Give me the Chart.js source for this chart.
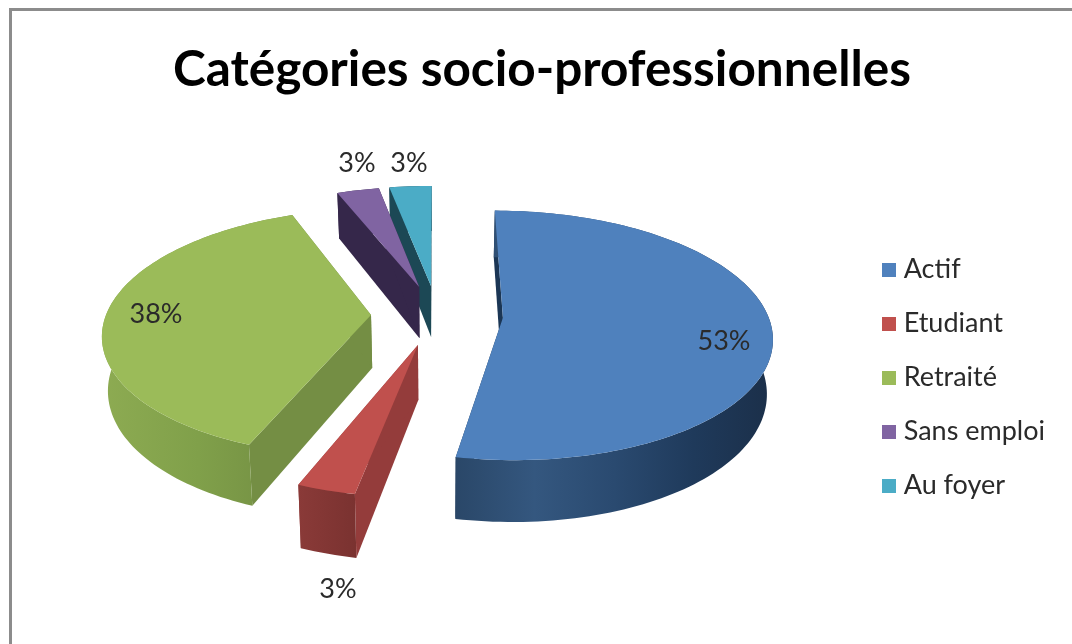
<!DOCTYPE html>
<html lang="fr">
<head>
<meta charset="utf-8">
<title>Catégories socio-professionnelles</title>
<script src="https://cdn.jsdelivr.net/npm/chart.js@4/dist/chart.umd.js"></script>
<style>
  html, body { margin: 0; padding: 0; background: #fff; }
  canvas { display: block; }
</style>
</head>
<body>
<canvas id="pie" width="1072" height="644"></canvas>
<script>
const categories = ['Actif', 'Etudiant', 'Retraité', 'Sans emploi', 'Au foyer'];
const shares = [53, 3, 38, 3, 3];

const topColors = ['#4f81bd', '#c0504d', '#9bbb59', '#8064a2', '#4bacc6'];
const cutColors = ['#1b3655', '#943c3b', '#748e44', '#35274a', '#1c4855'];
const wallStops = [
  ['#2a4768', '#34577f', '#2a4a70', '#1f3a5b', '#1b2f49'],
  ['#8a3a38', '#7a3230'],
  ['#8dab52', '#80a04a', '#728d42'],
  ['#35274a', '#35274a'],
  ['#1c4855', '#1c4855']
];
// where the percentage labels sit, same order as categories
const labelX = [724, 338, 156, 357, 409];
const labelY = [341, 589, 314, 163, 163];

// fake 3d: the flat pie is tilted with a small perspective
const view = { cx: 437, cy: 315, tilt: 121.5, persp: 0.14, depth: 53, shrink: 0.982 };

function project(wx, wy, radius, low) {
  const v = wy / radius;
  const w = 1 - view.persp * v;
  const kx = low ? view.shrink : 1;
  return {
    x: view.cx + wx * kx / w,
    y: view.cy + (view.tilt * v + (low ? view.depth : 0)) / w
  };
}

function tracePts(ctx, pts) {
  ctx.beginPath();
  pts.forEach((p, i) => i ? ctx.lineTo(p.x, p.y) : ctx.moveTo(p.x, p.y));
  ctx.closePath();
}

function drawSlice(ctx, arc, i) {
  const R = arc.outerRadius;
  const mid = (arc.startAngle + arc.endAngle) / 2;
  const ox = Math.cos(mid) * arc.options.offset;
  const oy = Math.sin(mid) * arc.options.offset;
  const rimTop = [], rimLow = [];
  const steps = Math.ceil((arc.endAngle - arc.startAngle) * 40);
  for (let s = 0; s <= steps; s++) {
    const a = arc.startAngle + (arc.endAngle - arc.startAngle) * s / steps;
    const wx = ox + R * Math.cos(a), wy = oy + R * Math.sin(a);
    rimTop.push(project(wx, wy, R, false));
    rimLow.push(project(wx, wy, R, true));
  }
  const tipTop = project(ox, oy, R, false);
  const tipLow = project(ox, oy, R, true);

  // the two cut faces
  ctx.fillStyle = cutColors[i];
  tracePts(ctx, [tipTop, rimTop[0], rimLow[0], tipLow]);
  ctx.fill();
  tracePts(ctx, [tipTop, rimTop[steps], rimLow[steps], tipLow]);
  ctx.fill();

  // outer wall
  const xs = rimTop.concat(rimLow).map(p => p.x);
  const grad = ctx.createLinearGradient(Math.min(...xs), 0, Math.max(...xs), 0);
  wallStops[i].forEach((c, k) => grad.addColorStop(k / (wallStops[i].length - 1), c));
  tracePts(ctx, rimTop.concat(rimLow.slice().reverse()));
  ctx.fillStyle = grad;
  ctx.fill();

  // top
  tracePts(ctx, [tipTop].concat(rimTop));
  ctx.fillStyle = arc.options.backgroundColor;
  ctx.fill();
}

// legend square, wider than the box chart.js reserves so the text sits close to it
function swatch(color) {
  const c = document.createElement('canvas');
  c.width = 14;
  c.height = 14;
  const g = c.getContext('2d');
  g.fillStyle = color;
  g.fillRect(0, 0, 14, 14);
  return c;
}

const tiltedPie = {
  id: 'tiltedPie',
  beforeDraw(chart) {
    const ctx = chart.ctx;
    ctx.save();
    ctx.fillStyle = '#fff';
    ctx.fillRect(0, 0, chart.width, chart.height);
    ctx.strokeStyle = '#8c8c8c';
    ctx.lineWidth = 3;
    ctx.strokeRect(10.5, 9.5, chart.width + 20, chart.height + 20);
    ctx.restore();
  },
  beforeDatasetsDraw(chart) {
    const ctx = chart.ctx;
    const arcs = chart.getDatasetMeta(0).data;
    const order = arcs.map((a, i) => i).sort((p, q) =>
      Math.sin((arcs[p].startAngle + arcs[p].endAngle) / 2) -
      Math.sin((arcs[q].startAngle + arcs[q].endAngle) / 2));
    ctx.save();
    order.forEach(i => drawSlice(ctx, arcs[i], i));
    ctx.restore();
    return false;
  },
  afterDraw(chart) {
    const ctx = chart.ctx;
    ctx.save();
    ctx.font = '27px Lato';
    ctx.fillStyle = '#2a2a2a';
    ctx.textAlign = 'center';
    ctx.textBaseline = 'middle';
    shares.forEach((s, i) => ctx.fillText(s + '%', labelX[i], labelY[i]));
    ctx.restore();
  }
};

new Chart(document.getElementById('pie'), {
  type: 'pie',
  data: {
    labels: categories,
    datasets: [{
      data: shares,
      backgroundColor: topColors,
      borderWidth: 0,
      offset: 66
    }]
  },
  plugins: [tiltedPie],
  options: {
    responsive: false,
    animation: false,
    radius: 265,
    layout: { padding: { left: 29, right: 17, top: 0, bottom: 0 } },
    plugins: {
      tooltip: { enabled: false },
      title: {
        display: true,
        text: 'Catégories socio-professionnelles',
        color: '#000',
        font: { family: 'Lato', size: 49.5, weight: 'bold' },
        padding: { top: 40, bottom: 12 }
      },
      legend: {
        position: 'right',
        fullSize: false,
        labels: {
          color: '#2a2a2a',
          font: { family: 'Lato', size: 27 },
          usePointStyle: true,
          boxWidth: 2,
          boxHeight: 14,
          padding: 27,
          generateLabels(chart) {
            const items = Chart.overrides.doughnut.plugins.legend.labels.generateLabels(chart);
            items.forEach((it, i) => { it.pointStyle = swatch(topColors[i]); });
            return items;
          }
        }
      }
    }
  }
});
</script>
</body>
</html>
